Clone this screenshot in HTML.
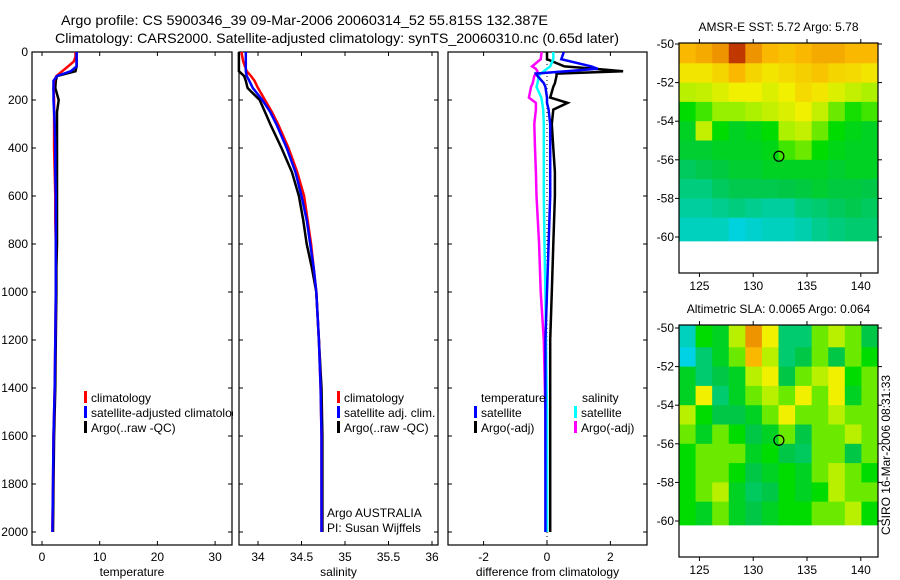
<!DOCTYPE html>
<html><head><meta charset="utf-8"><style>
html,body{margin:0;padding:0;background:#fff;}
svg{display:block;font-family:"Liberation Sans",sans-serif;}
</style></head><body>
<svg id="fig" width="900" height="580" viewBox="0 0 900 580" xmlns="http://www.w3.org/2000/svg">
<defs><clipPath id="clipT"><rect x="32" y="0" width="201" height="580"/></clipPath></defs>
<text x="61" y="25" font-size="14" textLength="487" lengthAdjust="spacingAndGlyphs">Argo profile: CS 5900346_39 09-Mar-2006 20060314_52 55.815S 132.387E</text>
<text x="55" y="43" font-size="14" textLength="564" lengthAdjust="spacingAndGlyphs">Climatology: CARS2000. Satellite-adjusted climatology: synTS_20060310.nc (0.65d later)</text>
<g id="g"></g>
<text transform="translate(890,455) rotate(-90)" text-anchor="middle" font-size="12">CSIRO 16-Mar-2006 08:31:33</text>
</svg>
<script>
// ---- profile data ----
const depths = [0,20,40,60,80,100,120,150,200,250,300,400,500,600,700,800,900,1000,1200,1400,1600,1800,2000];
const tempClim = [5.8,5.8,5.5,4.5,3.5,2.5,2.1,2.0,2.1,2.1,2.1,2.1,2.2,2.3,2.3,2.4,2.4,2.4,2.3,2.2,2.0,1.9,1.8];
const tempSat  = [6.0,6.0,6.0,6.0,5.0,2.6,2.0,2.0,2.0,2.1,2.2,2.3,2.3,2.4,2.4,2.4,2.4,2.4,2.3,2.2,2.0,1.9,1.8];
const tempArgo = [6.0,6.0,6.0,6.0,5.8,2.6,2.4,2.3,2.9,2.6,2.6,2.6,2.6,2.6,2.6,2.6,2.5,2.5,2.4,2.3,2.1,2.0,1.9];
const salClim = [33.81,33.82,33.83,33.85,33.87,33.92,33.96,34.0,34.08,34.16,34.23,34.35,34.45,34.53,34.57,34.61,34.64,34.67,34.70,34.72,34.73,34.73,34.73];
const salSat  = [33.86,33.86,33.86,33.86,33.86,33.87,33.90,33.94,34.05,34.14,34.21,34.33,34.43,34.50,34.56,34.60,34.64,34.67,34.70,34.72,34.73,34.73,34.73];
const salArgo = [33.78,33.78,33.78,33.78,33.78,33.84,33.86,33.88,34.02,34.08,34.14,34.27,34.39,34.47,34.52,34.56,34.62,34.67,34.70,34.73,34.74,34.74,34.74];
const diffDepths = [0,30,60,70,80,90,100,130,145,190,212,240,300,400,500,600,800,1000,1200,1500,2000];
const dTempSat  = [0.53,0.45,1.4,1.6,0.6,-0.35,-0.3,-0.1,-0.05,0.0,0.0,0.05,0.1,0.1,0.1,0.1,0.05,0.0,-0.05,-0.05,-0.05];
const dTempArgo = [0.0,0.0,0.55,1.5,2.4,0.3,0.3,0.25,0.2,0.1,0.65,0.2,0.15,0.2,0.25,0.25,0.2,0.15,0.1,0.1,0.1];
const dSalSat   = [0.2,0.2,0.1,0.0,-0.1,-0.2,-0.26,-0.3,-0.33,-0.18,-0.15,-0.12,-0.1,-0.1,-0.1,-0.1,-0.08,-0.05,-0.03,0.0,0.0];
const dSalArgo  = [-0.17,-0.2,-0.47,-0.35,-0.3,-0.35,-0.4,-0.45,-0.5,-0.57,-0.35,-0.35,-0.4,-0.38,-0.35,-0.33,-0.25,-0.2,-0.1,-0.05,-0.03];
const depthTicks = [0,200,400,600,800,1000,1200,1400,1600,1800,2000];
const tempTicks = [0,10,20,30];
const salTicks = [34,34.5,35,35.5,36];
const salTickLabels = ["34","34.5","35","35.5","36"];
const diffTicks = [-2,0,2];
// ---- map data (colormap index 0..1), rows lat -50 -> -60, 12 lon columns ----
const sstGrid = [
[0.80,0.82,0.85,0.95,0.85,0.80,0.78,0.80,0.82,0.82,0.80,0.80],
[0.72,0.72,0.75,0.80,0.75,0.72,0.74,0.76,0.78,0.75,0.74,0.72],
[0.65,0.66,0.68,0.70,0.70,0.68,0.70,0.74,0.72,0.68,0.66,0.64],
[0.55,0.58,0.62,0.62,0.64,0.66,0.68,0.70,0.66,0.60,0.56,0.58],
[0.50,0.66,0.55,0.50,0.52,0.55,0.64,0.66,0.60,0.55,0.52,0.50],
[0.48,0.48,0.50,0.50,0.50,0.52,0.58,0.60,0.55,0.52,0.50,0.50],
[0.42,0.44,0.46,0.48,0.48,0.50,0.50,0.50,0.50,0.48,0.50,0.50],
[0.38,0.38,0.42,0.44,0.44,0.44,0.45,0.46,0.48,0.46,0.46,0.45],
[0.34,0.34,0.36,0.38,0.36,0.34,0.34,0.38,0.40,0.42,0.44,0.42],
[0.30,0.30,0.30,0.26,0.28,0.30,0.30,0.32,0.36,0.38,0.40,0.40]];
const slaGrid = [
[0.30,0.55,0.50,0.65,0.85,0.70,0.40,0.40,0.60,0.65,0.60,0.45],
[0.25,0.40,0.50,0.60,0.80,0.65,0.40,0.45,0.60,0.45,0.60,0.55],
[0.50,0.40,0.45,0.50,0.65,0.70,0.45,0.60,0.65,0.70,0.55,0.60],
[0.50,0.70,0.40,0.50,0.60,0.65,0.60,0.70,0.60,0.70,0.50,0.60],
[0.65,0.55,0.45,0.45,0.50,0.60,0.70,0.60,0.60,0.65,0.60,0.60],
[0.60,0.50,0.60,0.55,0.45,0.50,0.60,0.45,0.60,0.60,0.65,0.60],
[0.55,0.60,0.60,0.60,0.50,0.55,0.45,0.42,0.60,0.60,0.45,0.60],
[0.55,0.60,0.60,0.55,0.45,0.50,0.55,0.50,0.60,0.65,0.60,0.55],
[0.55,0.60,0.65,0.50,0.42,0.45,0.55,0.50,0.55,0.65,0.60,0.60],
[0.55,0.50,0.60,0.50,0.45,0.50,0.55,0.55,0.60,0.60,0.65,0.55]];
const latTicks = [-50,-52,-54,-56,-58,-60];
const lonTicks = [125,130,135,140];
const floatLon = 132.387, floatLat = -55.815;

const NS="http://www.w3.org/2000/svg";
const G=document.getElementById('g');
function mk(tag,attrs,parent){const e=document.createElementNS(NS,tag);for(const k in attrs)e.setAttribute(k,attrs[k]);(parent||G).appendChild(e);return e;}
function txt(s,attrs,parent){const e=mk('text',attrs,parent);e.textContent=s;return e;}
const yD = d => 52 + d*0.24;

function panel(name,x0,x1,xs,ticks,labels,title){
  const g=mk('g',{});
  
  
  const r=mk('rect',{x:x0,y:52,width:x1-x0,height:493,fill:'none',stroke:'#000','stroke-width':1.2},g);
  
  
  ticks.forEach((t,i)=>{
    const X=xs(t);
    mk('line',{x1:X,x2:X,y1:52,y2:56,stroke:'#000'},g);
    mk('line',{x1:X,x2:X,y1:545,y2:541,stroke:'#000'},g);
    const l=txt(labels[i],{x:X,y:561,'font-size':12,'text-anchor':'middle'},g);
    
    
  });
  depthTicks.forEach(d=>{
    mk('line',{x1:x0,x2:x0+4,y1:yD(d),y2:yD(d),stroke:'#000'},g);
    mk('line',{x1:x1,x2:x1-4,y1:yD(d),y2:yD(d),stroke:'#000'},g);
  });
  const t=txt(title,{x:(x0+x1)/2,y:576,'font-size':12,'text-anchor':'middle'},g);
  
  
  return g;
}
function line(g,xs,vals,ds,color,w,name){
  const pts=vals.map((v,i)=>xs(v).toFixed(1)+','+yD(ds[i]).toFixed(1)).join(' ');
  const p=mk('polyline',{points:pts,fill:'none',stroke:color,'stroke-width':w,'stroke-linejoin':'miter'},g);
  
  
}
function legend(g,x,y,color,label,name){
  mk('rect',{x:x,y:y-11,width:3,height:12,fill:color},g);
  const t=txt(label,{x:x+7,y:y,'font-size':12},g);
  
  
}

// Temperature
const xT=v=>42+v*5.77;
const gT=panel('temperature',32,232,xT,tempTicks,tempTicks.map(String),'temperature');
depthTicks.forEach(d=>{const l=txt(String(d),{x:28,y:yD(d)+4,'font-size':12,'text-anchor':'end'});
  
  });
line(gT,xT,tempArgo,depths,'#000',2.5,'temp-argo-line');
line(gT,xT,tempClim,depths,'#f00',2.5,'temp-climatology-line');
line(gT,xT,tempSat,depths,'#00f',2.5,'temp-satellite-line');
const legT=mk('g',{'clip-path':'url(#clipT)'},gT);


legend(legT,84,402,'#f00','climatology','temp-legend-climatology');
legend(legT,84,417,'#00f','satellite-adjusted climatology','temp-legend-satellite');
legend(legT,84,432,'#000','Argo(..raw -QC)','temp-legend-argo');

// Salinity
const xS=v=>258+(v-34)*87;
const gS=panel('salinity',239,438,xS,salTicks,salTickLabels,'salinity');
line(gS,xS,salArgo,depths,'#000',2.5,'sal-argo-line');
line(gS,xS,salClim,depths,'#f00',2.5,'sal-climatology-line');
line(gS,xS,salSat,depths,'#00f',2.5,'sal-satellite-line');
legend(gS,337,402,'#f00','climatology','sal-legend-climatology');
legend(gS,337,417,'#00f','satellite adj. clim.','sal-legend-satellite');
legend(gS,337,432,'#000','Argo(..raw -QC)','sal-legend-argo');
const a1=txt('Argo AUSTRALIA',{x:327,y:517,'font-size':12},gS);


const a2=txt('PI: Susan Wijffels',{x:327,y:532,'font-size':12},gS);



// Difference
const xDf=v=>547+v*31.7;
const gD=panel('difference',448,647,xDf,diffTicks,diffTicks.map(String),'difference from climatology');
const z=mk('line',{x1:xDf(0),x2:xDf(0),y1:52,y2:545,stroke:'#000','stroke-dasharray':'1,3'},gD);


line(gD,xDf,dTempArgo,diffDepths,'#000',2.5,'diff-temp-argo-line');
line(gD,xDf,dSalArgo,diffDepths,'#f0f',2.5,'diff-sal-argo-line');
line(gD,xDf,dSalSat,diffDepths,'#0ff',2.5,'diff-sal-satellite-line');
line(gD,xDf,dTempSat,diffDepths,'#00f',2.5,'diff-temp-satellite-line');
const lt=txt('temperature',{x:481,y:402,'font-size':12},gD);


const ls=txt('salinity',{x:582,y:402,'font-size':12},gD);


legend(gD,474,417,'#00f','satellite','diff-legend-temp-satellite');
legend(gD,474,432,'#000','Argo(-adj)','diff-legend-temp-argo');
legend(gD,574,417,'#0ff','satellite','diff-legend-sal-satellite');
legend(gD,574,432,'#f0f','Argo(-adj)','diff-legend-sal-argo');

// colormap
const stops=[[0,[0,90,255]],[0.25,[0,210,230]],[0.45,[0,200,70]],[0.55,[0,220,0]],[0.62,[150,240,0]],[0.7,[240,240,0]],[0.8,[250,185,0]],[0.9,[225,110,0]],[1,[160,0,0]]];
function cmap(v){for(let i=1;i<stops.length;i++){if(v<=stops[i][0]){const a=stops[i-1],b=stops[i];const f=(v-a[0])/(b[0]-a[0]);
  const c=a[1].map((x,k)=>Math.round(x+(b[1][k]-x)*f));return 'rgb('+c.join(',')+')';}}return 'rgb(160,0,0)';}

function map(name,grid,top,bottom,lat50y,lat60y,title){
  const g=mk('g',{});
  
  
  const x0=679,x1=878,lonMin=123.1,lonMax=141.6;
  const xl=lo=>x0+(lo-lonMin)*(x1-x0)/(lonMax-lonMin);
  const yl=la=>lat50y+(-50-la)*(lat60y-lat50y)/10;
  const nr=grid.length,nc=grid[0].length;
  const cw=(lonMax-lonMin)/nc;
  grid.forEach((row,r)=>row.forEach((v,c)=>{
    const la0=-50-r, la1=(r==nr-1)?-60.2:-51-r;
    const ya=(r==0)?top:yl(la0);
    const cell=mk('rect',{x:xl(lonMin+c*cw),y:ya,width:xl(lonMin+(c+1)*cw)-xl(lonMin+c*cw)+0.5,height:yl(la1)-ya+0.5,fill:cmap(v)},g);
    
    
  }));
  const b=mk('rect',{x:x0,y:top,width:x1-x0,height:bottom-top,fill:'none',stroke:'#000','stroke-width':1.2},g);
  
  
  latTicks.forEach(la=>{const Y=yl(la);
    mk('line',{x1:x0-4,x2:x0,y1:Y,y2:Y,stroke:'#000'},g);
    mk('line',{x1:x1,x2:x1+4,y1:Y,y2:Y,stroke:'#000'},g);
    const l=txt(String(la),{x:x0-5,y:Y+4,'font-size':12,'text-anchor':'end'},g);
    
    });
  lonTicks.forEach(lo=>{const X=xl(lo);
    mk('line',{x1:X,x2:X,y1:bottom,y2:bottom+4,stroke:'#000'},g);
    mk('line',{x1:X,x2:X,y1:top,y2:top-4,stroke:'#000'},g);
    const l=txt(String(lo),{x:X,y:bottom+17,'font-size':12,'text-anchor':'middle'},g);
    
    });
  const c=mk('circle',{cx:xl(floatLon),cy:yl(floatLat),r:5,fill:'none',stroke:'#000','stroke-width':1.2},g);
  
  
  const t=txt(title,{x:(x0+x1)/2,y:top-12,'font-size':12,'text-anchor':'middle'},g);
  
  
}
map('sst',sstGrid,43,273,44,237,'AMSR-E SST: 5.72 Argo: 5.78');
map('sla',slaGrid,325,557,328,521,'Altimetric SLA: 0.0065 Argo: 0.064');
</script>
</body></html>
